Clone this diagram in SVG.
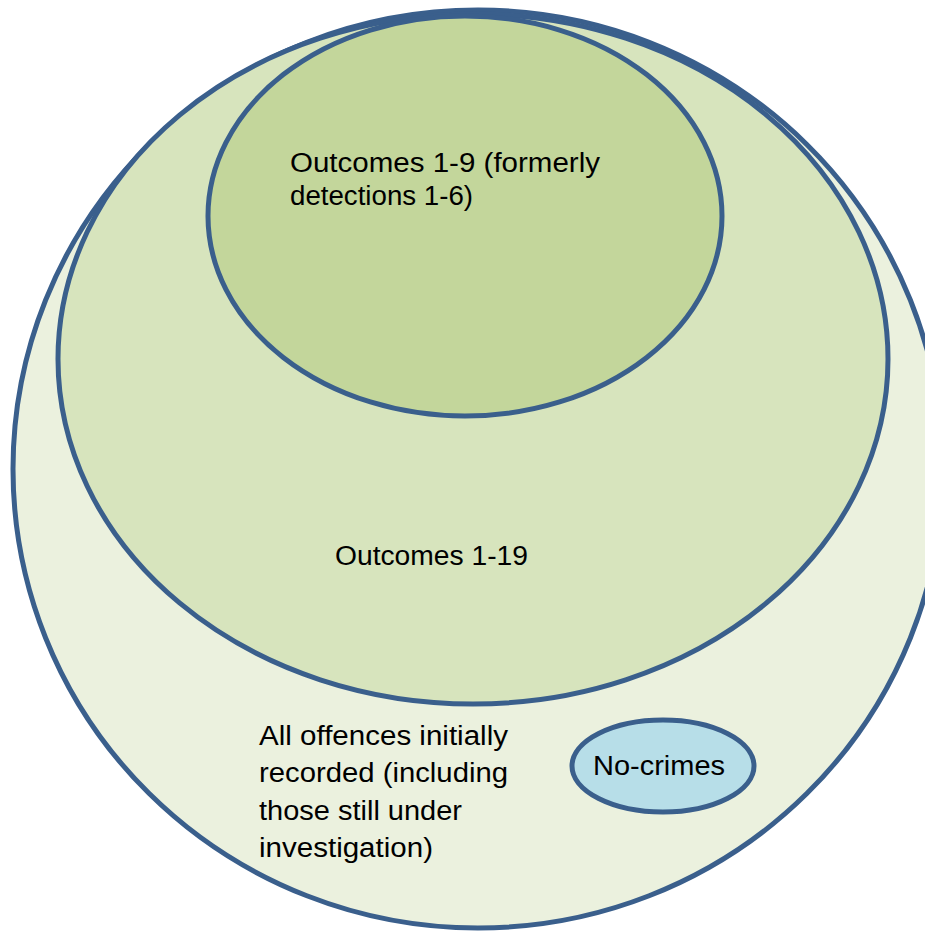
<svg xmlns="http://www.w3.org/2000/svg" width="925" height="931" viewBox="0 0 925 931">
<style>
.e{stroke:#3A5F8C;stroke-width:5}
text{font-family:"Liberation Sans",Arial,sans-serif;font-size:27px;fill:#000}
</style>
<rect width="925" height="931" fill="#fff"/>
<g id="all-offences">
<ellipse class="e" cx="478" cy="469" rx="465" ry="459" fill="#EBF1DE"/>
<text x="259" y="745" textLength="249" lengthAdjust="spacingAndGlyphs">All offences initially</text>
<text x="259" y="782" textLength="249" lengthAdjust="spacingAndGlyphs">recorded (including</text>
<text x="259" y="820" textLength="203" lengthAdjust="spacingAndGlyphs">those still under</text>
<text x="259" y="857" textLength="174" lengthAdjust="spacingAndGlyphs">investigation)</text>
</g>
<g id="outcomes-1-19">
<ellipse class="e" cx="473" cy="359" rx="415" ry="345" fill="#D7E4BD"/>
<text x="335" y="565" textLength="193" lengthAdjust="spacingAndGlyphs">Outcomes 1-19</text>
</g>
<g id="outcomes-1-9">
<ellipse class="e" cx="465" cy="216" rx="257" ry="200" fill="#C3D69B"/>
<text x="290" y="172" textLength="310" lengthAdjust="spacingAndGlyphs">Outcomes 1-9 (formerly</text>
<text x="290" y="205" textLength="183" lengthAdjust="spacingAndGlyphs">detections 1-6)</text>
</g>
<g id="no-crimes">
<ellipse class="e" cx="663" cy="766" rx="91" ry="46" fill="#B7DEE8"/>
<text x="593" y="775" textLength="132" lengthAdjust="spacingAndGlyphs">No-crimes</text>
</g>
<g id="connectors"/>
</svg>
